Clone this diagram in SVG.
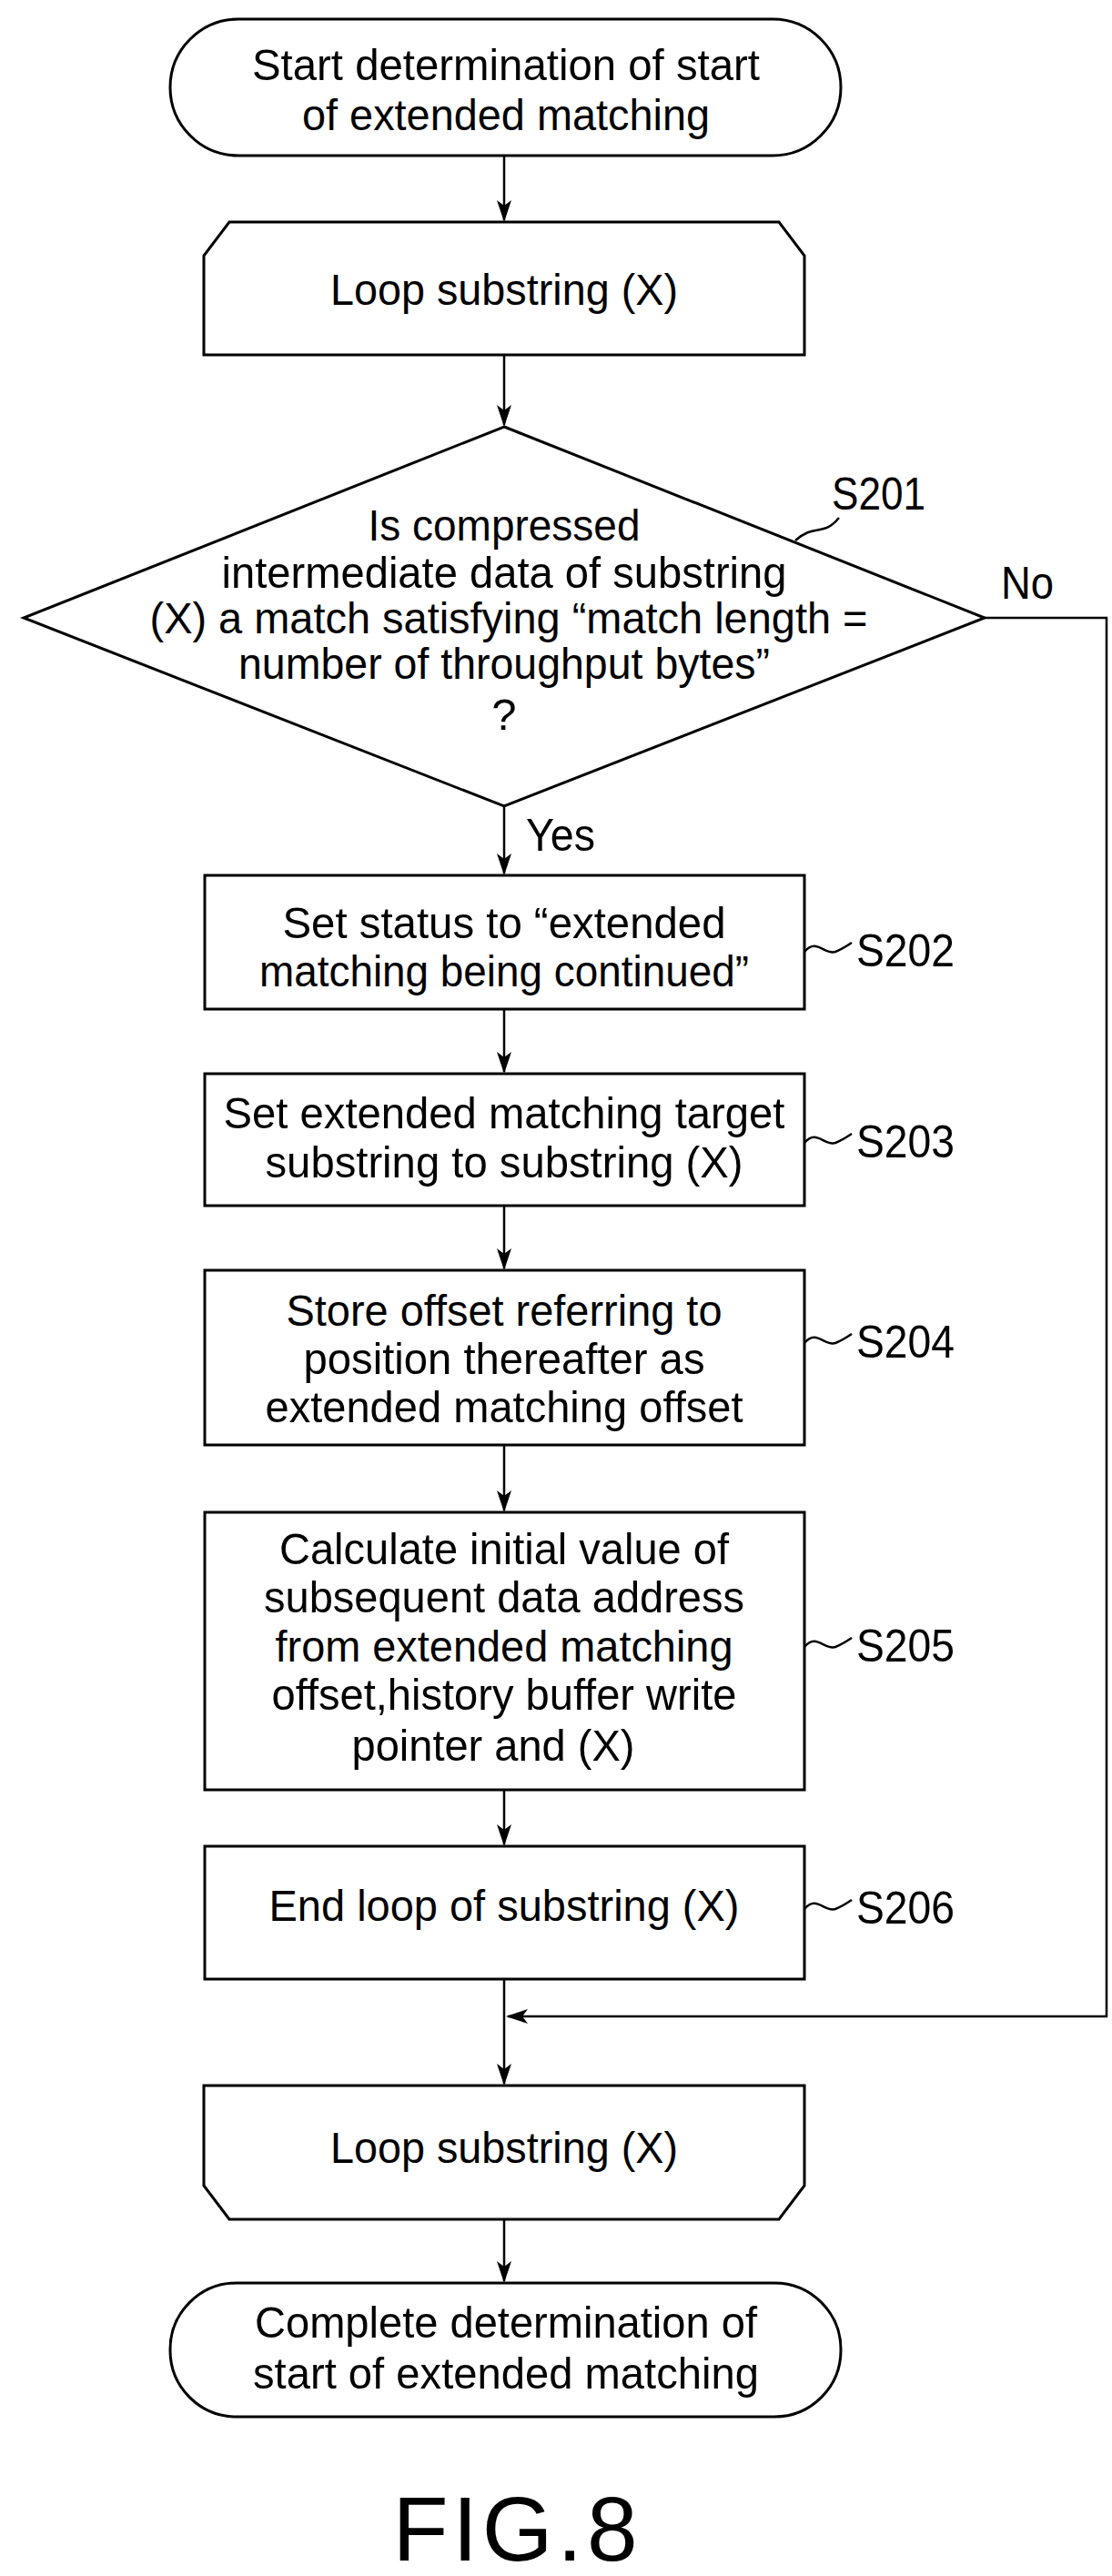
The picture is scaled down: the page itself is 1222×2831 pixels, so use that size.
<svg xmlns="http://www.w3.org/2000/svg" width="1222" height="2831" viewBox="0 0 1222 2831">
<style>
.s{fill:#fff;stroke:#000;stroke-width:3}
.c{fill:none;stroke:#000;stroke-width:2.5}
text{font-family:"Liberation Sans",Arial,sans-serif;font-size:49px;fill:#000}
.m{text-anchor:middle}
.l{font-size:50px}
</style>
<rect width="1222" height="2831" fill="#fff"/>
<g id="connectors">
<path class="c" d="M554,171 V242"/>
<path class="c" d="M554,390 V467"/>
<path class="c" d="M554,886 V960"/>
<path class="c" d="M554,1109 V1178"/>
<path class="c" d="M554,1325 V1394"/>
<path class="c" d="M554,1588 V1660"/>
<path class="c" d="M554,1967 V2027"/>
<path class="c" d="M554,2175 V2290"/>
<path class="c" d="M1082,679 H1216 V2216 H558"/>
<path class="c" d="M554,2439 V2507"/>
<g fill="#000">
<path d="M546,220 L554,244 L562,220 L554,226 Z"/>
<path d="M546,445 L554,469 L562,445 L554,451 Z"/>
<path d="M546,938 L554,962 L562,938 L554,944 Z"/>
<path d="M546,1156 L554,1180 L562,1156 L554,1162 Z"/>
<path d="M546,1372 L554,1396 L562,1372 L554,1378 Z"/>
<path d="M546,1638 L554,1662 L562,1638 L554,1644 Z"/>
<path d="M546,2005 L554,2029 L562,2005 L554,2011 Z"/>
<path d="M546,2268 L554,2292 L562,2268 L554,2274 Z"/>
<path d="M546,2485 L554,2509 L562,2485 L554,2491 Z"/>
<path d="M580,2208 L556,2216 L580,2224 L574,2216 Z"/>
</g>
<text class="l" x="1100" y="658" textLength="58" lengthAdjust="spacingAndGlyphs">No</text>
<text class="l" x="578" y="935" textLength="76" lengthAdjust="spacingAndGlyphs">Yes</text>
</g>
<g id="start">
<rect class="s" x="187" y="21" width="737" height="150" rx="75"/>
<text class="m" x="556" y="88" textLength="558" lengthAdjust="spacingAndGlyphs">Start determination of start</text>
<text class="m" x="556" y="143" textLength="448" lengthAdjust="spacingAndGlyphs">of extended matching</text>
</g>
<g id="loop1">
<path class="s" d="M252,244 H856 L884,281 V390 H224 V281 Z"/>
<text class="m" x="554" y="335" textLength="382" lengthAdjust="spacingAndGlyphs">Loop substring (X)</text>
</g>
<g id="S201">
<path class="s" d="M554,469 L1082,679 L554,886 L26,679 Z"/>
<text class="m" x="554" y="594" textLength="299" lengthAdjust="spacingAndGlyphs">Is compressed</text>
<text class="m" x="554" y="646" textLength="621" lengthAdjust="spacingAndGlyphs">intermediate data of substring</text>
<text class="m" x="559" y="696" textLength="789" lengthAdjust="spacingAndGlyphs">(X) a match satisfying “match length =</text>
<text class="m" x="554" y="746" textLength="584" lengthAdjust="spacingAndGlyphs">number of throughput bytes”</text>
<text class="m" x="554" y="802">?</text>
<path class="c" d="M874,594 C895,575 905,590 922,569"/>
<text class="l" x="914" y="560" textLength="103" lengthAdjust="spacingAndGlyphs">S201</text>
</g>
<g id="S202">
<rect class="s" x="225" y="962" width="659" height="147"/>
<text class="m" x="554" y="1031" textLength="487" lengthAdjust="spacingAndGlyphs">Set status to “extended</text>
<text class="m" x="554" y="1084" textLength="538" lengthAdjust="spacingAndGlyphs">matching being continued”</text>
<path class="c" d="M884,1046 C897,1030 906,1050 918,1046 C926,1043 930,1040 936,1036"/>
<text class="l" x="941" y="1062" textLength="108" lengthAdjust="spacingAndGlyphs">S202</text>
</g>
<g id="S203">
<rect class="s" x="225" y="1180" width="659" height="145"/>
<text class="m" x="554" y="1240" textLength="617" lengthAdjust="spacingAndGlyphs">Set extended matching target</text>
<text class="m" x="554" y="1294" textLength="525" lengthAdjust="spacingAndGlyphs">substring to substring (X)</text>
<path class="c" d="M884,1256 C897,1240 906,1260 918,1256 C926,1253 930,1250 936,1246"/>
<text class="l" x="941" y="1272" textLength="108" lengthAdjust="spacingAndGlyphs">S203</text>
</g>
<g id="S204">
<rect class="s" x="225" y="1396" width="659" height="192"/>
<text class="m" x="554" y="1457" textLength="479" lengthAdjust="spacingAndGlyphs">Store offset referring to</text>
<text class="m" x="554" y="1510" textLength="441" lengthAdjust="spacingAndGlyphs">position thereafter as</text>
<text class="m" x="554" y="1563" textLength="525" lengthAdjust="spacingAndGlyphs">extended matching offset</text>
<path class="c" d="M884,1476 C897,1460 906,1480 918,1476 C926,1473 930,1470 936,1466"/>
<text class="l" x="941" y="1492" textLength="108" lengthAdjust="spacingAndGlyphs">S204</text>
</g>
<g id="S205">
<rect class="s" x="225" y="1662" width="659" height="305"/>
<text class="m" x="554" y="1719" textLength="494" lengthAdjust="spacingAndGlyphs">Calculate initial value of</text>
<text class="m" x="554" y="1772" textLength="528" lengthAdjust="spacingAndGlyphs">subsequent data address</text>
<text class="m" x="554" y="1826" textLength="503" lengthAdjust="spacingAndGlyphs">from extended matching</text>
<text class="m" x="554" y="1879" textLength="511" lengthAdjust="spacingAndGlyphs">offset,history buffer write</text>
<text class="m" x="542" y="1935" textLength="311" lengthAdjust="spacingAndGlyphs">pointer and (X)</text>
<path class="c" d="M884,1810 C897,1794 906,1814 918,1810 C926,1807 930,1804 936,1800"/>
<text class="l" x="941" y="1826" textLength="108" lengthAdjust="spacingAndGlyphs">S205</text>
</g>
<g id="S206">
<rect class="s" x="225" y="2029" width="659" height="146"/>
<text class="m" x="554" y="2111" textLength="517" lengthAdjust="spacingAndGlyphs">End loop of substring (X)</text>
<path class="c" d="M884,2098 C897,2082 906,2102 918,2098 C926,2095 930,2092 936,2088"/>
<text class="l" x="941" y="2114" textLength="108" lengthAdjust="spacingAndGlyphs">S206</text>
</g>
<g id="loop2">
<path class="s" d="M224,2292 H884 V2402 L856,2439 H252 L224,2402 Z"/>
<text class="m" x="554" y="2377" textLength="382" lengthAdjust="spacingAndGlyphs">Loop substring (X)</text>
</g>
<g id="end">
<rect class="s" x="187" y="2509" width="737" height="147" rx="73"/>
<text class="m" x="556" y="2569" textLength="552" lengthAdjust="spacingAndGlyphs">Complete determination of</text>
<text class="m" x="556" y="2625" textLength="556" lengthAdjust="spacingAndGlyphs">start of extended matching</text>
</g>
<text class="m" x="566" y="2814" style="font-size:100px" textLength="269" lengthAdjust="spacing">FIG.8</text>
</svg>
